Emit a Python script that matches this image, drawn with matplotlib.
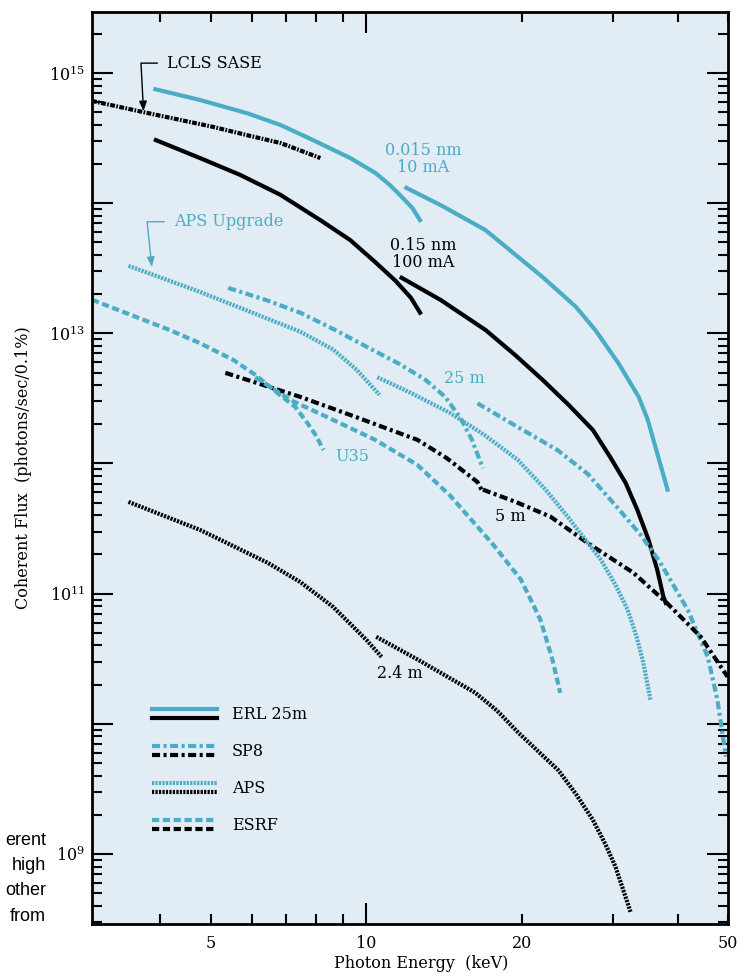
import numpy as np
import matplotlib.pyplot as plt
import matplotlib.ticker as ticker
from matplotlib.lines import Line2D
from matplotlib.legend_handler import HandlerBase

plt.rcParams['font.family'] = 'DejaVu Serif'
plt.rcParams['mathtext.fontset'] = 'dejavuserif'
plt.rcParams['lines.scale_dashes'] = False

BLUE = '#4BACC6'
BG = '#E1ECF4'

# ERL 25m (solid): blue = 0.015 nm / 10 mA, black = 0.15 nm / 100 mA
erl_blue_a_e = [3.91, 4.77, 5.89, 6.82, 7.89, 9.31, 10.4, 11.1, 11.7, 12.27, 12.7]
erl_blue_a_f = [7.5e14, 6.2e14, 4.9e14, 3.99e14, 3.05e14, 2.22e14, 1.71e14, 1.38e14, 1.12e14, 9.2e13, 7.4e13]
erl_blue_b_e = [11.95, 14.03, 17.0, 21.9, 25.4, 27.7, 30.7, 33.6, 35.0, 36.2, 38.2]
erl_blue_b_f = [1.31e14, 9.5e13, 6.2e13, 2.71e13, 1.6e13, 1.06e13, 5.9e12, 3.25e12, 2.16e12, 1.34e12, 6.3e11]
erl_black_a_e = [3.92, 4.77, 5.70, 6.82, 8.15, 9.31, 10.4, 11.4, 12.2, 12.7]
erl_black_a_f = [3.05e14, 2.22e14, 1.65e14, 1.16e14, 7.4e13, 5.2e13, 3.53e13, 2.52e13, 1.87e13, 1.44e13]
erl_black_b_e = [11.7, 13.9, 17.0, 19.4, 21.9, 24.6, 27.4, 29.6, 31.7, 33.4, 35.1, 36.5, 37.5, 37.9]
erl_black_b_f = [2.67e13, 1.81e13, 1.06e13, 6.8e12, 4.4e12, 2.82e12, 1.81e12, 1.12e12, 7.1e11,
                 4.4e11, 2.6e11, 1.52e11, 9.5e10, 8.5e10]

# LCLS SASE
lcls_e = [2.95, 3.71, 5.06, 5.97, 6.82, 8.15]
lcls_f = [6.1e14, 5.0e14, 3.85e14, 3.28e14, 2.9e14, 2.22e14]

# SP8 (dash-dot)
sp8_blue_a_e = [5.41, 6.38, 7.45, 8.71, 10.0, 11.6, 13.0, 14.2, 15.2, 16.0, 16.8]
sp8_blue_a_f = [2.23e13, 1.81e13, 1.44e13, 1.06e13, 7.9e12, 5.8e12, 4.4e12, 3.25e12, 2.24e12, 1.52e12, 9.2e11]
sp8_blue_b_e = [16.4, 19.6, 23.4, 26.8, 30.6, 33.9, 37.0, 41.8, 45.7, 47.7, 49.1, 49.5]
sp8_blue_b_f = [2.9e12, 1.91e12, 1.27e12, 8.3e11, 4.56e11, 2.83e11, 1.73e11, 7.5e10, 3.27e10,
                1.53e10, 7.1e9, 5.6e9]
sp8_black_a_e = [5.34, 7.45, 9.31, 12.55, 14.3, 16.4, 16.8]
sp8_black_a_f = [4.97e12, 3.25e12, 2.36e12, 1.52e12, 1.1e12, 7.2e11, 6.0e11]
sp8_black_b_e = [16.8, 19.6, 22.7, 27.1, 32.8, 37.9, 44.3, 49.9]
sp8_black_b_f = [6.3e11, 5.0e11, 3.9e11, 2.37e11, 1.45e11, 8.65e10, 4.66e10, 2.3e10]

# APS (dotted)
aps_blue_a_e = [3.47, 4.77, 7.45, 8.63, 9.6, 10.6]
aps_blue_a_f = [3.3e13, 2.08e13, 1.03e13, 7.5e12, 5.2e12, 3.37e12]
aps_blue_b_e = [10.5, 12.2, 14.5, 16.9, 19.6, 22.2, 24.5, 28.4, 30.3, 32.0, 33.3, 34.3, 35.4]
aps_blue_b_f = [4.6e12, 3.48e12, 2.45e12, 1.66e12, 1.07e12, 6.3e11, 3.9e11, 1.82e11, 1.17e11,
                7.5e10, 4.66e10, 2.95e10, 1.53e10]
aps_black_a_e = [3.47, 4.77, 6.44, 7.45, 8.63, 10.0, 10.7]
aps_black_a_f = [5.07e11, 3.09e11, 1.73e11, 1.23e11, 7.9e10, 4.42e10, 3.27e10]
aps_black_b_e = [10.45, 12.6, 16.25, 17.9, 19.7, 23.5, 25.4, 27.4, 29.0, 30.3, 32.4]
aps_black_b_f = [4.66e10, 3.1e10, 1.73e10, 1.26e10, 8.5e9, 4.4e9, 2.9e9, 1.83e9, 1.18e9, 8.0e8, 3.6e8]

# ESRF (dashed)
esrf_blue_a_e = [2.95, 4.12, 4.77, 5.53, 6.10, 6.73, 7.29, 7.69, 8.0, 8.26]
esrf_blue_a_f = [1.81e13, 1.08e13, 8.4e12, 6.25e12, 4.8e12, 3.48e12, 2.72e12, 2.05e12, 1.63e12, 1.27e12]
esrf_blue_b_e = [6.10, 7.13, 8.63, 10.4, 12.55, 14.5, 17.6, 19.9, 20.7, 21.7, 22.9, 23.7]
esrf_blue_b_f = [4.6e12, 3.08e12, 2.16e12, 1.52e12, 9.75e11, 5.7e11, 2.37e11, 1.28e11, 9.3e10, 6.3e10,
                 3.1e10, 1.73e10]

sp8_dash = (0, (5.8, 2.5, 2.2, 2.5))
aps_dash = (0, (1.6, 0.9))
esrf_dash = (0, (5.2, 2.6))
lcls_dash = (0, (3.5, 1.0, 1.2, 1.0))
LW = 3

fig = plt.figure(figsize=(7.5, 9.77), dpi=100)
ax = fig.add_axes([92 / 750, 53 / 977, 636 / 750, 912 / 977])
ax.set_facecolor(BG)
ax.set_xscale('log')
ax.set_yscale('log')
ax.set_xlim(2.95, 50)
ax.set_ylim(2.9e8, 2.94e15)

ax.plot(erl_blue_a_e, erl_blue_a_f, color=BLUE, lw=LW)
ax.plot(erl_blue_b_e, erl_blue_b_f, color=BLUE, lw=LW)
ax.plot(erl_black_a_e, erl_black_a_f, color='black', lw=LW)
ax.plot(erl_black_b_e, erl_black_b_f, color='black', lw=LW)
ax.plot(lcls_e, lcls_f, color='black', lw=LW, ls=lcls_dash)
ax.plot(sp8_blue_a_e, sp8_blue_a_f, color=BLUE, lw=LW, ls=sp8_dash)
ax.plot(sp8_blue_b_e, sp8_blue_b_f, color=BLUE, lw=LW, ls=sp8_dash)
ax.plot(sp8_black_a_e, sp8_black_a_f, color='black', lw=LW, ls=sp8_dash)
ax.plot(sp8_black_b_e, sp8_black_b_f, color='black', lw=LW, ls=sp8_dash)
ax.plot(aps_blue_a_e, aps_blue_a_f, color=BLUE, lw=LW, ls=aps_dash)
ax.plot(aps_blue_b_e, aps_blue_b_f, color=BLUE, lw=LW, ls=aps_dash)
ax.plot(aps_black_a_e, aps_black_a_f, color='black', lw=LW, ls=aps_dash)
ax.plot(aps_black_b_e, aps_black_b_f, color='black', lw=LW, ls=aps_dash)
ax.plot(esrf_blue_a_e, esrf_blue_a_f, color=BLUE, lw=LW, ls=esrf_dash)
ax.plot(esrf_blue_b_e, esrf_blue_b_f, color=BLUE, lw=LW, ls=esrf_dash)

# labels on the curves
fs = 11.5
ax.text(12.9, 2.2e14, '0.015 nm\n10 mA', color=BLUE, fontsize=fs, ha='center', va='center', linespacing=1.0)
ax.text(12.9, 4.07e13, '0.15 nm\n100 mA', color='black', fontsize=fs, ha='center', va='center', linespacing=1.0)
ax.text(15.5, 4.47e12, '25 m', color=BLUE, fontsize=fs, ha='center', va='center')
ax.text(19.0, 3.9e11, '5 m', color='black', fontsize=fs, ha='center', va='center')
ax.text(8.71, 1.14e12, 'U35', color=BLUE, fontsize=fs, ha='left', va='center')
ax.text(11.6, 2.42e10, '2.4 m', color='black', fontsize=fs, ha='center', va='center')

ax.annotate('LCLS SASE', xy=(3.71, 5.1e14), xytext=(4.12, 1.19e15), fontsize=fs,
            ha='left', va='center', color='black',
            arrowprops=dict(arrowstyle='-|>,head_length=0.5,head_width=0.2', color='black', lw=1,
                            relpos=(0, 0.5), shrinkA=5, shrinkB=0,
                            connectionstyle='angle,angleA=180,angleB=93,rad=0'))
ax.annotate('APS Upgrade', xy=(3.85, 3.24e13), xytext=(4.25, 7.2e13), fontsize=fs,
            ha='left', va='center', color=BLUE,
            arrowprops=dict(arrowstyle='-|>,head_length=0.5,head_width=0.2', color=BLUE, lw=1,
                            relpos=(0, 0.5), shrinkA=5, shrinkB=0,
                            connectionstyle='angle,angleA=180,angleB=96,rad=0'))


class PairHandler(HandlerBase):
    def create_artists(self, legend, orig_handle, xdescent, ydescent, width, height, fontsize, trans):
        out = []
        for line, frac in zip(orig_handle, (0.80, 0.20)):
            l = Line2D([-xdescent, width - xdescent], [height * frac - ydescent] * 2)
            l.update_from(line)
            l.set_transform(trans)
            out.append(l)
        return out


leg_names = ['ERL 25m', 'SP8', 'APS', 'ESRF']
leg_styles = ['-', sp8_dash, aps_dash, esrf_dash]
handles = [(Line2D([], [], color=BLUE, lw=LW, ls=s), Line2D([], [], color='black', lw=LW, ls=s))
           for s in leg_styles]
ax.legend(handles, leg_names, handler_map={tuple: PairHandler()}, loc='upper left',
          bbox_to_anchor=(0.094, 0.239), frameon=False, fontsize=fs, borderpad=0,
          borderaxespad=0, handlelength=4.1, handleheight=1.0, handletextpad=0.9,
          labelspacing=1.25)

# ticks
ax.xaxis.set_major_locator(ticker.FixedLocator([10]))
ax.xaxis.set_major_formatter(ticker.FixedFormatter(['10']))
ax.xaxis.set_minor_locator(ticker.FixedLocator([4, 5, 6, 7, 8, 9, 20, 30, 40, 50]))
ax.xaxis.set_minor_formatter(ticker.FuncFormatter(lambda v, p: '%d' % v if v in (5, 20, 50) else ''))
ax.yaxis.set_major_locator(ticker.FixedLocator([1e9, 1e10, 1e11, 1e12, 1e13, 1e14, 1e15]))
ax.yaxis.set_major_formatter(ticker.FuncFormatter(
    lambda v, p: r'$10^{%d}$' % round(np.log10(v)) if round(np.log10(v)) % 2 == 1 else ''))
ax.yaxis.set_minor_locator(ticker.LogLocator(base=10, subs=np.arange(2, 10), numticks=20))
ax.yaxis.set_minor_formatter(ticker.NullFormatter())

ax.tick_params(which='both', direction='in', top=True, right=True, width=1.5, labelsize=11.5)
ax.tick_params(which='major', length=15)
ax.tick_params(which='minor', length=7.5)
ax.tick_params(axis='x', which='both', pad=8)
ax.tick_params(axis='y', which='both', pad=5)
for sp in ax.spines.values():
    sp.set_linewidth(2)

ax.set_xlabel('Photon Energy  (keV)', fontsize=11.5)
ax.xaxis.set_label_coords(0.517, -0.034)
ax.set_ylabel('Coherent Flux  (photons/sec/0.1%)', fontsize=11.5)
ax.yaxis.set_label_coords(-0.094, 0.5)

# text cut off at the left edge
for txt, yy in zip(['erent', 'high', 'other', 'from'], [0.140, 0.1146, 0.089, 0.0624]):
    fig.text(0.0613, yy, txt, fontsize=13, family='Liberation Sans', ha='right', va='center')

fig.savefig('out.png', dpi=100)
